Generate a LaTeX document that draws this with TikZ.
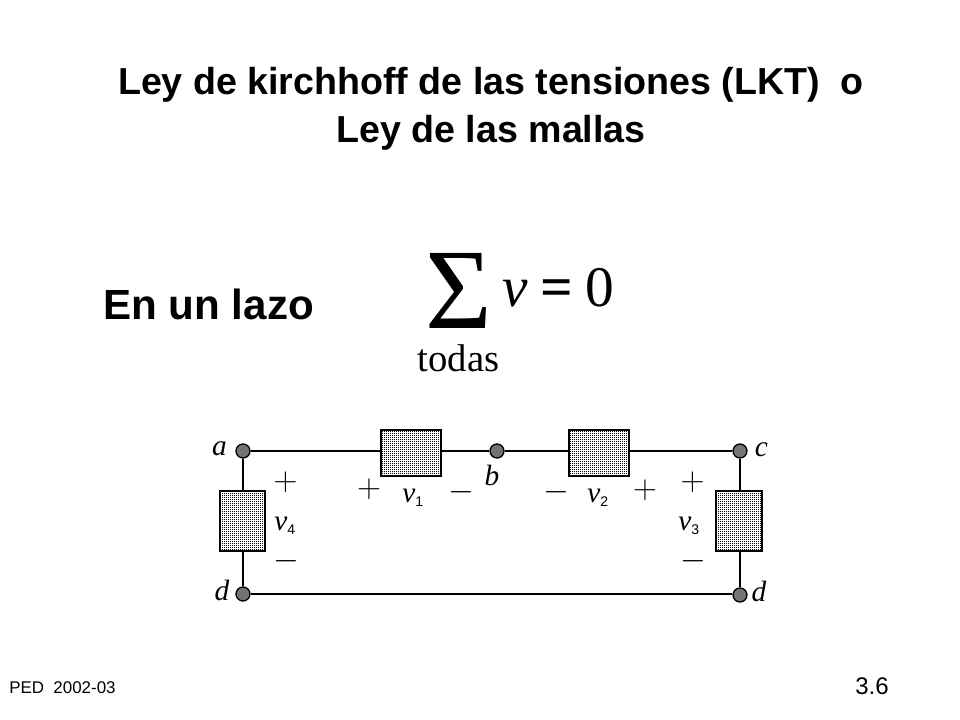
\documentclass[tikz,border=0pt]{standalone}
\usepackage{fontspec}
\setmainfont{Liberation Sans}
\newfontfamily\timesfont{Liberation Serif}
\usetikzlibrary{positioning,calc,patterns}
\pgfdeclarepatternformonly{finedots}{\pgfqpoint{0pt}{0pt}}{\pgfqpoint{1.5pt}{1.5pt}}{\pgfqpoint{1.5pt}{1.5pt}}{%
	\pgfpathrectangle{\pgfqpoint{0pt}{0pt}}{\pgfqpoint{0.95pt}{0.95pt}}\pgfusepath{fill}}
\newcommand{\voltlabel}[1]{{\timesfont\itshape\fontsize{22}{22}\selectfont v}\raisebox{-3.5pt}{\fontsize{10.5}{11}\selectfont #1}}
\begin{document}
\begin{tikzpicture}[
	x=0.75pt, y=-0.75pt,
	wire/.style={line width=1.5pt},
	element/.style={draw, line width=1.5pt, pattern=finedots, inner sep=0pt},
	hbox/.style={element, minimum width=45pt, minimum height=34.5pt},
	vbox/.style={element, minimum width=34pt, minimum height=45pt},
	terminal/.style={circle, draw, line width=1pt, fill=black!55, inner sep=0pt, minimum size=10.5pt},
	letter/.style={anchor=base, font=\timesfont\itshape\fontsize{22}{22}\selectfont, inner sep=0pt},
	sign/.style={font=\fontsize{23}{23}\selectfont, inner sep=0pt},
	volt/.style={anchor=base west, inner sep=0pt},
	every node/.style={color=black}
	]
	\useasboundingbox (0,0) rectangle (960,720);
	% titles
	\node[align=center, inner sep=0pt, font=\bfseries\fontsize{28.2}{36}\selectfont] (title) at (491,109)
	{Ley de kirchhoff de las tensiones (LKT)\ \ o\\Ley de las mallas};
	\node[anchor=base west, inner sep=0pt, font=\bfseries\fontsize{31.6}{32}\selectfont] (lazo) at (103,320) {En un lazo};
	\node[anchor=base west, inner sep=0pt, font=\fontsize{12.7}{13}\selectfont] (ped) at (9,693) {PED\ \ 2002-03};
	\node[anchor=base east, inner sep=0pt, font=\fontsize{18}{18}\selectfont] (page) at (889,694) {3.6};
	% formula
	\node[anchor=base, inner sep=0pt, text depth=0pt, font=\timesfont\fontsize{86}{86}\selectfont] (sum) at (459,329) {Σ};
	\node[anchor=base west, inner sep=0pt, font=\timesfont\fontsize{43}{43}\selectfont] (eq) at (502,306)
	{\textit{v}\hspace{0.22em}\textbf{=}\hspace{0.22em}0};
	\node[anchor=base, inner sep=0pt, font=\timesfont\fontsize{29}{29}\selectfont] (todas) at (458.5,371) {todas};
	% terminals
	\node[terminal] (a) at (243,451) {};
	\node[terminal] (b) at (497,451) {};
	\node[terminal] (c) at (740,451) {};
	\node[terminal] (dl) at (243,594) {};
	\node[terminal] (dr) at (740,595) {};
	% elements
	\node[hbox] (e1) at (411,453) {};
	\node[hbox] (e2) at (599,453) {};
	\node[vbox] (e3) at (739,521) {};
	\node[vbox] (e4) at (242.5,521) {};
	% wires
	\draw[wire] (a) -- (a -| e1.west);
	\draw[wire] (e1.east |- b) -- (b);
	\draw[wire] (b) -- (b -| e2.west);
	\draw[wire] (e2.east |- c) -- (c);
	\draw[wire] (c) -- (c |- e3.north);
	\draw[wire] (c |- e3.south) -- (dr);
	\draw[wire] (a) -- (a |- e4.north);
	\draw[wire] (a |- e4.south) -- (dl);
	\draw[wire] (dl) -- (dl -| dr.west);
	% labels
	\node[letter] (la) at (219.5,455) {a};
	\node[letter] (lb) at (492,485) {b};
	\node[letter] (lc) at (761.5,456) {c};
	\node[letter] (ld) at (222,600) {d};
	\node[letter] (le) at (759,601) {d};
	\node[volt] (v1) at (402,502) {\voltlabel{1}};
	\node[volt] (v2) at (587,502) {\voltlabel{2}};
	\node[volt] (v3) at (678,530) {\voltlabel{3}};
	\node[volt] (v4) at (274,530) {\voltlabel{4}};
	% signs
	\node[sign] (p1) at (369,489) {$+$};
	\node[sign] (m1) at (461,492) {$-$};
	\node[sign] (m2) at (556,492) {$-$};
	\node[sign] (p2) at (645,490) {$+$};
	\node[sign] (p3) at (692.5,482.5) {$+$};
	\node[sign] (m3) at (693.5,561) {$-$};
	\node[sign] (p4) at (285.5,482.5) {$+$};
	\node[sign] (m4) at (286.5,561) {$-$};
\end{tikzpicture}
\end{document}
